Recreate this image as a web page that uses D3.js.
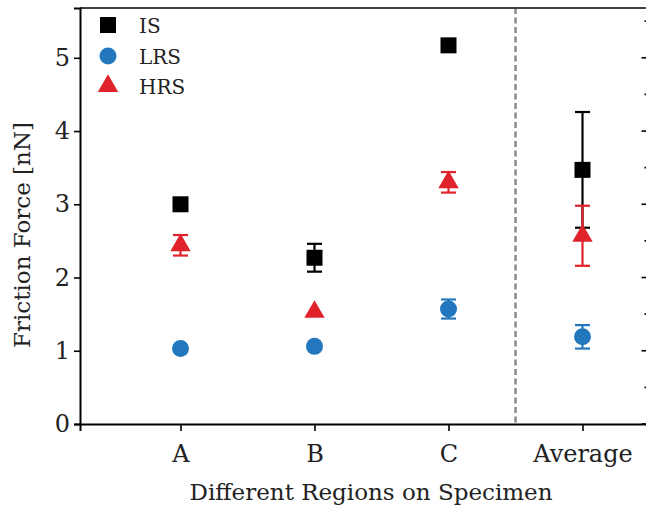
<!DOCTYPE html>
<html>
<head>
<meta charset="utf-8">
<script src="https://cdn.jsdelivr.net/npm/d3@7"></script>
<style>
html,body{margin:0;padding:0;background:#fff;}
svg{display:block;}
text{font-family:"DejaVu Serif",serif;}
</style>
</head>
<body>
<svg id="chart" width="646" height="513"></svg>
<script>
const categories = ["A", "B", "C", "Average"];
const seriesNames = ["IS", "LRS", "HRS"];
const isValues = [3.00, 2.27, 5.17, 3.47];
const isErrors = [0, 0.19, 0, 0.79];
const lrsValues = [1.03, 1.06, 1.57, 1.19];
const lrsErrors = [0, 0, 0.13, 0.16];
const hrsValues = [2.44, 1.53, 3.30, 2.57];
const hrsErrors = [0.14, 0, 0.14, 0.41];
const yTicks = [0, 1, 2, 3, 4, 5];
const yMinorTicks = [0.5, 1.5, 2.5, 3.5, 4.5, 5.5];
const xLabel = "Different Regions on Specimen";
const yLabel = "Friction Force [nN]";

(function () {
const colors = {IS: "#000000", LRS: "#2378bd", HRS: "#e0222a"};
const svg = d3.select("#chart");
const mLeft = 80, mRight = 649.5, mTop = 8, mBottom = 424;

const x = d3.scaleLinear().domain([0.25, 4.5]).range([mLeft, mRight]);
const y = d3.scaleLinear().domain([0, 5.68]).range([mBottom, mTop]);

// dashed divider
svg.append("line").attr("x1", x(3.5)).attr("x2", x(3.5)).attr("y1", y(5.68)).attr("y2", y(0))
  .attr("stroke", "#8a8a8a").attr("stroke-width", 2.5).attr("stroke-dasharray", "6,3.5");

// frame top
svg.append("line").attr("x1", mLeft).attr("x2", mRight).attr("y1", mTop).attr("y2", mTop)
  .attr("stroke", "#404040").attr("stroke-width", 2);

// left axis
const gL = svg.append("g").attr("transform", `translate(${mLeft},0)`);
gL.call(d3.axisLeft(y).tickValues(yMinorTicks).tickSize(4).tickFormat(""));
gL.call(d3.axisLeft(y).tickValues(yTicks).tickSize(6).tickPadding(4).tickFormat(d3.format("d")));
gL.selectAll(".domain").attr("stroke", "#000").attr("stroke-width", 2);
gL.selectAll(".tick line").attr("stroke", "#000").attr("stroke-width", 1.6);
gL.selectAll("text").attr("font-family", "DejaVu Serif").attr("font-size", 24).attr("fill", "#222");

// right axis (inward ticks)
const rt = svg.append("g").attr("transform", `translate(${mRight},0)`);
rt.selectAll("line.maj").data(yTicks).join("line").attr("class","maj")
  .attr("x1", -8).attr("x2", 0).attr("y1", d => y(d)).attr("y2", d => y(d))
  .attr("stroke", "#000").attr("stroke-width", 1.6);
rt.selectAll("line.min").data(yMinorTicks).join("line").attr("class","min")
  .attr("x1", -5).attr("x2", 0).attr("y1", d => y(d)).attr("y2", d => y(d))
  .attr("stroke", "#000").attr("stroke-width", 1.6);

// bottom axis
const gB = svg.append("g").attr("transform", `translate(0,${mBottom})`);
gB.call(d3.axisBottom(x).tickValues([1, 2, 3, 4]).tickSize(7).tickPadding(14)
  .tickFormat((d, i) => categories[i]));
gB.selectAll(".domain").attr("stroke", "#000").attr("stroke-width", 2);
gB.selectAll(".tick line").attr("stroke", "#000").attr("stroke-width", 1.6);
gB.selectAll("text").attr("font-family", "DejaVu Serif").attr("font-size", 24).attr("fill", "#222");

// axis titles
svg.append("text").attr("x", 371).attr("y", 500).attr("text-anchor", "middle")
  .attr("font-size", 23).attr("fill", "#222").text(xLabel);
svg.append("text").attr("transform", `translate(30,235) rotate(-90)`).attr("text-anchor", "middle")
  .attr("font-size", 23).attr("fill", "#222").text(yLabel);

// data
const rows = categories.map((c, i) => ({i: i + 1,
  IS: [isValues[i], isErrors[i]], LRS: [lrsValues[i], lrsErrors[i]], HRS: [hrsValues[i], hrsErrors[i]]}));

function errBars(name) {
  const g = svg.append("g");
  rows.filter(r => r[name][1] > 0).forEach(r => {
    const [v, e] = r[name];
    const cx = x(r.i);
    g.append("line").attr("x1", cx).attr("x2", cx).attr("y1", y(v + e)).attr("y2", y(v - e))
      .attr("stroke", colors[name]).attr("stroke-width", 2.2);
    [v + e, v - e].forEach(t => g.append("line").attr("x1", cx - 7.5).attr("x2", cx + 7.5)
      .attr("y1", y(t)).attr("y2", y(t)).attr("stroke", colors[name]).attr("stroke-width", 2.2));
  });
}
const symSq = d3.symbol().type(d3.symbolSquare).size(16 * 16);
const symCi = d3.symbol().type(d3.symbolCircle).size(Math.PI * 8.5 * 8.5);
const symTr = d3.symbol().type(d3.symbolTriangle).size(180);

errBars("LRS");
svg.append("g").selectAll("path").data(rows).join("path")
  .attr("d", symCi).attr("transform", d => `translate(${x(d.i)},${y(d.LRS[0])})`).attr("fill", colors.LRS);
errBars("IS");
svg.append("g").selectAll("path").data(rows).join("path")
  .attr("d", symSq).attr("transform", d => `translate(${x(d.i)},${y(d.IS[0])})`).attr("fill", colors.IS);
errBars("HRS");
svg.append("g").selectAll("path").data(rows).join("path")
  .attr("d", symTr).attr("transform", d => `translate(${x(d.i)},${y(d.HRS[0])})`).attr("fill", colors.HRS);

// legend
const leg = svg.append("g");
const legY = [25, 56, 86];
const syms = [symSq, symCi, symTr];
seriesNames.forEach((n, k) => {
  leg.append("path").attr("d", syms[k]).attr("transform", `translate(108,${legY[k]})`).attr("fill", colors[n]);
  leg.append("text").attr("x", 139).attr("y", legY[k] + 7.5).attr("font-size", 20).attr("fill", "#222").text(n);
});
})();
</script>
</body>
</html>
